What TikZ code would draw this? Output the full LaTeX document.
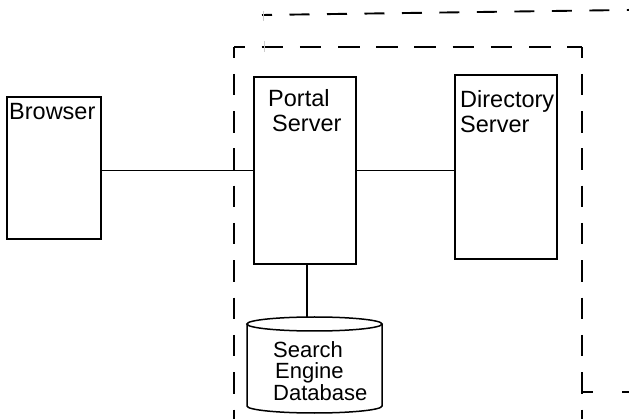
\documentclass[tikz,border=0pt]{standalone}
\usepackage{fontspec}
\setmainfont{Liberation Sans}
\begin{document}
\begin{tikzpicture}[x=1pt,y=-1pt,
  box/.style={draw=black,line width=1.5pt,minimum width=#1,inner sep=0pt},
  lbl/.style={inner sep=0pt,anchor=base west,align=left,font=\fontsize{23.5}{25.5}\selectfont},
  conn/.style={line width=1.5pt},
  frame/.style={line width=1.9pt,dash pattern=on 21.6pt off 16.6pt},
  tick/.style={line width=0.9pt,draw=black!20}]
\useasboundingbox (0,0) rectangle (629,419);
% boxes
\node[box=94pt,minimum height=142pt] (browser) at (54,168) {};
\node[box=102pt,minimum height=187pt] (portal) at (305,170.5) {};
\node[box=102pt,minimum height=184pt] (directory) at (506,167) {};
% labels (base = last line)
\node[lbl] (tbrowser) at (9,120) {Browser};
\node[lbl] (tportal) at (268,132) {Portal\\\hspace{4pt}Server};
\node[lbl] (tdirectory) at (460,133) {Directory\\Server};
% database cylinder
\draw[conn] (247,324) -- (247,406) arc[start angle=180,end angle=0,x radius=67.5,y radius=7] -- (382,324);
\draw[conn,fill=white] (314.5,324) ellipse[x radius=67.5,y radius=7];
\coordinate (dbtop) at (307,317);
\node[lbl,font=\fontsize{22}{20.5}\selectfont] (db) at (273,400) {Search\\\hspace{2pt}Engine\\Database};
% connectors
\draw[conn] (browser.east |- portal.west) -- (portal.west);
\draw[conn] (portal.east) -- (portal.east -| directory.west);
\draw[conn] (portal.south -| dbtop) -- (dbtop);
% dashed frames
\draw[frame,dash phase=10.6pt] (234,47) -- (582,47);
\draw[frame,dash pattern=on 21.5pt off 15.8pt,dash phase=10.5pt] (234,47) -- (234,440);
\draw[frame,dash pattern=on 21.5pt off 15.8pt,dash phase=10.5pt] (582,47) -- (582,440);
\draw[frame,dash pattern=on 20pt off 17.5pt,dash phase=10pt] (262,15) -- (640,9.8);
\draw[frame,dash pattern=on 11pt off 29pt] (582,392) -- (640,392);
\draw[tick] (263,11) -- (263,21);
\draw[tick] (264,41) -- (264,52);
\end{tikzpicture}
\end{document}
